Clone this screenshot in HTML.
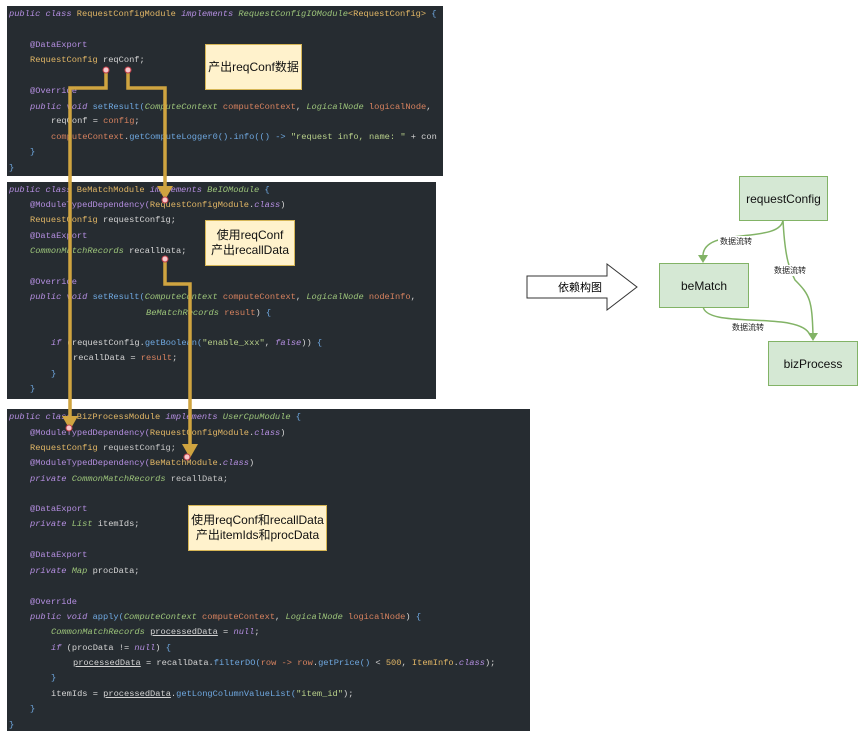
<!DOCTYPE html>
<html><head><meta charset="utf-8"><style>
body{margin:0;width:865px;height:739px;background:#fff;position:relative;overflow:hidden;font-family:"Liberation Sans","Noto Sans CJK SC",sans-serif}
.p{position:absolute;background:#262c31}
.l{position:absolute;white-space:pre;font-family:"Liberation Mono",monospace;font-size:8.7px;color:#d4d4d4;line-height:11px}
.k{color:#b48ee0;font-style:italic}.a{color:#b48ee0}.c{color:#e2b766}.g{color:#9cc47a;font-style:italic}.o{color:#d7825f}.b{color:#6fa8e0}.s{color:#b8d08a}.y{color:#c8c8c8}
.note{position:absolute;background:#fff2cc;border:1px solid #d6b656;font-size:12px;color:#111;text-align:center;display:flex;align-items:center;justify-content:center;line-height:15px}
.box{position:absolute;background:#d5e8d4;border:1px solid #82b366;font-size:12px;display:flex;align-items:center;justify-content:center;color:#111}
</style></head><body>
<div class="p" style="left:7px;top:6px;width:436px;height:170px"></div>
<div class="p" style="left:7px;top:182px;width:429px;height:217px"></div>
<div class="p" style="left:7px;top:409px;width:523px;height:322px"></div>

<div class="l" style="left:9px;top:9px"><span class="k">public class </span><span class="c">RequestConfigModule </span><span class="k">implements </span><span class="g">RequestConfigIOModule</span><span class="c">&lt;RequestConfig&gt; </span><span class="b">{</span></div>
<div class="l" style="left:30px;top:40px"><span class="a">@DataExport</span></div>
<div class="l" style="left:30px;top:55px"><span class="c">RequestConfig </span>reqConf;</div>
<div class="l" style="left:30px;top:86px"><span class="a">@Override</span></div>
<div class="l" style="left:30px;top:102px"><span class="k">public void </span><span class="b">setResult(</span><span class="g">ComputeContext </span><span class="o">computeContext</span>, <span class="g">LogicalNode </span><span class="o">logicalNode</span>, </div>
<div class="l" style="left:51px;top:116px">reqConf = <span class="o">config</span>;</div>
<div class="l" style="left:51px;top:132px"><span class="o">computeContext</span>.<span class="b">getComputeLogger0().info(() -&gt; </span><span class="s">"request info, name: "</span> + con</div>
<div class="l" style="left:30px;top:147px"><span class="b">}</span></div>
<div class="l" style="left:9px;top:163px"><span class="b">}</span></div>

<div class="l" style="left:9px;top:185px"><span class="k">public class </span><span class="c">BeMatchModule </span><span class="k">implements </span><span class="g">BeIOModule </span><span class="b">{</span></div>
<div class="l" style="left:30px;top:200px"><span class="a">@ModuleTypedDependency(</span><span class="c">RequestConfigModule</span>.<span class="k">class</span>)</div>
<div class="l" style="left:30px;top:215px"><span class="c">RequestConfig </span>requestConfig;</div>
<div class="l" style="left:30px;top:231px"><span class="a">@DataExport</span></div>
<div class="l" style="left:30px;top:246px"><span class="g">CommonMatchRecords </span>recallData;</div>
<div class="l" style="left:30px;top:277px"><span class="a">@Override</span></div>
<div class="l" style="left:30px;top:292px"><span class="k">public void </span><span class="b">setResult(</span><span class="g">ComputeContext </span><span class="o">computeContext</span>, <span class="g">LogicalNode </span><span class="o">nodeInfo</span>,</div>
<div class="l" style="left:146px;top:308px"><span class="g">BeMatchRecords </span><span class="o">result</span>) <span class="b">{</span></div>
<div class="l" style="left:51px;top:338px"><span class="k">if </span>(requestConfig.<span class="b">getBoolean(</span><span class="s">"enable_xxx"</span>, <span class="k">false</span>)) <span class="b">{</span></div>
<div class="l" style="left:73px;top:353px">recallData = <span class="o">result</span>;</div>
<div class="l" style="left:51px;top:369px"><span class="b">}</span></div>
<div class="l" style="left:30px;top:384px"><span class="b">}</span></div>

<div class="l" style="left:9px;top:412px"><span class="k">public class </span><span class="c">BizProcessModule </span><span class="k">implements </span><span class="g">UserCpuModule </span><span class="b">{</span></div>
<div class="l" style="left:30px;top:428px"><span class="a">@ModuleTypedDependency(</span><span class="c">RequestConfigModule</span>.<span class="k">class</span>)</div>
<div class="l" style="left:30px;top:443px"><span class="c">RequestConfig </span><span class="y">requestConfig;</span></div>
<div class="l" style="left:30px;top:458px"><span class="a">@ModuleTypedDependency(</span><span class="c">BeMatchModule</span>.<span class="k">class</span>)</div>
<div class="l" style="left:30px;top:474px"><span class="k">private </span><span class="g">CommonMatchRecords </span><span class="y">recallData;</span></div>
<div class="l" style="left:30px;top:504px"><span class="a">@DataExport</span></div>
<div class="l" style="left:30px;top:519px"><span class="k">private </span><span class="g">List </span>itemIds;</div>
<div class="l" style="left:30px;top:550px"><span class="a">@DataExport</span></div>
<div class="l" style="left:30px;top:566px"><span class="k">private </span><span class="g">Map </span>procData;</div>
<div class="l" style="left:30px;top:597px"><span class="a">@Override</span></div>
<div class="l" style="left:30px;top:612px"><span class="k">public void </span><span class="b">apply(</span><span class="g">ComputeContext </span><span class="o">computeContext</span>, <span class="g">LogicalNode </span><span class="o">logicalNode</span>) <span class="b">{</span></div>
<div class="l" style="left:51px;top:627px"><span class="g">CommonMatchRecords </span><u>processedData</u> = <span class="k">null</span>;</div>
<div class="l" style="left:51px;top:643px"><span class="k">if </span>(procData != <span class="k">null</span>) <span class="b">{</span></div>
<div class="l" style="left:73px;top:658px"><u>processedData</u> = recallData.<span class="b">filterDO(</span><span class="o">row -&gt; row</span>.<span class="b">getPrice()</span> &lt; <span class="c">500</span>, <span class="c">ItemInfo</span>.<span class="k">class</span>);</div>
<div class="l" style="left:51px;top:673px"><span class="b">}</span></div>
<div class="l" style="left:51px;top:689px">itemIds = <u>processedData</u>.<span class="b">getLongColumnValueList(</span><span class="s">"item_id"</span>);</div>
<div class="l" style="left:30px;top:704px"><span class="b">}</span></div>
<div class="l" style="left:9px;top:720px"><span class="b">}</span></div>

<div class="note" style="left:205px;top:44px;width:95px;height:44px">产出reqConf数据</div>
<div class="note" style="left:205px;top:220px;width:88px;height:44px">使用reqConf<br>产出recallData</div>
<div class="note" style="left:188px;top:505px;width:137px;height:44px">使用reqConf和recallData<br>产出itemIds和procData</div>

<svg style="position:absolute;left:0;top:0" width="865" height="739">
<g fill="none" stroke="#cfa440" stroke-width="3.5">
<polyline points="106,70 106,88 70,88 70,420"/>
<polyline points="128,70 128,88 165,88 165,190"/>
<polyline points="165,259 165,284 190,284 190,448"/>
</g>
<g fill="#cfa440">
<polygon points="62,416 78,416 70,430"/>
<polygon points="157,186 173,186 165,200"/>
<polygon points="182,444 198,444 190,458"/>
</g>
<g fill="#f8c8cc" stroke="#c0404a" stroke-width="1">
<circle cx="106" cy="70" r="3"/><circle cx="128" cy="70" r="3"/>
<circle cx="165" cy="200" r="3"/><circle cx="165" cy="259" r="3"/>
<circle cx="69" cy="428" r="3"/><circle cx="187" cy="457" r="3"/>
</g>
<polygon points="527,276 607,276 607,264 637,287 607,310 607,298 527,298" fill="#fff" stroke="#333" stroke-width="1"/>
<text x="580" y="291" font-size="11" text-anchor="middle" font-family="Liberation Sans,Noto Sans CJK SC,sans-serif">依赖构图</text>
<g fill="none" stroke="#82b366" stroke-width="1.5">
<path d="M783,220 C780,245 700,225 703,258"/>
<path d="M783,220 C785,260 790,270 795,280 C810,295 812,300 813,335"/>
<path d="M703,306 C705,330 800,310 810,335"/>
</g>
<g fill="#82b366">
<polygon points="698,255 708,255 703,263"/>
<polygon points="808,333 818,333 813,341"/>
</g>
<g font-size="8" font-family="Liberation Sans,Noto Sans CJK SC,sans-serif" text-anchor="middle" fill="#222">
<rect x="718" y="236" width="36" height="11" fill="#fff"/><text x="736" y="244">数据流转</text>
<rect x="772" y="265" width="36" height="11" fill="#fff"/><text x="790" y="273">数据流转</text>
<rect x="730" y="322" width="36" height="11" fill="#fff"/><text x="748" y="330">数据流转</text>
</g>
</svg>
<div class="box" style="left:739px;top:176px;width:87px;height:43px">requestConfig</div>
<div class="box" style="left:659px;top:263px;width:88px;height:43px">beMatch</div>
<div class="box" style="left:768px;top:341px;width:88px;height:43px">bizProcess</div>
</body></html>
